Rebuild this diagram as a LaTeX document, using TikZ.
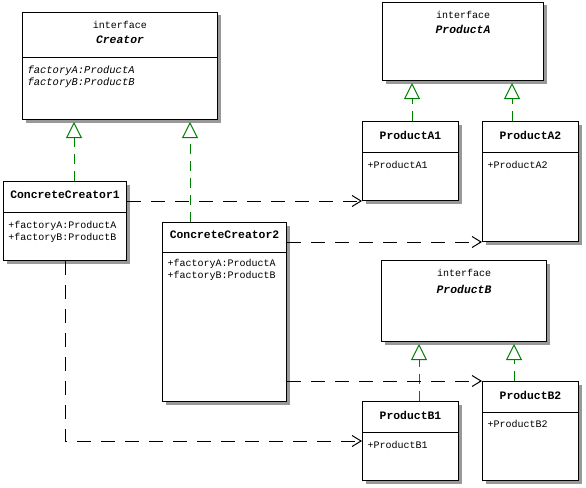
\documentclass[tikz,border=0pt]{standalone}
\usepackage{fontspec}
\setmainfont{Liberation Mono}
\usetikzlibrary{arrows.meta, shadows, calc, positioning}

\definecolor{umlgreen}{RGB}{0,128,0}

\tikzset{
  classbox/.style={draw, fill=white, inner sep=0pt, anchor=north west,
    drop shadow={shadow xshift=3pt, shadow yshift=-3pt, fill=black!40, opacity=1}},
  kw/.style={font=\fontsize{10}{12}\selectfont, inner sep=0pt},
  cname/.style={font=\fontsize{11.4}{13}\selectfont\bfseries, inner sep=0pt},
  iname/.style={font=\fontsize{11.4}{13}\selectfont\bfseries\itshape, inner sep=0pt},
  member/.style={font=\fontsize{10}{12}\selectfont, inner sep=0pt, anchor=west},
  imember/.style={font=\fontsize{10.5}{12}\selectfont\itshape, inner sep=0pt, anchor=west},
  realize/.style={draw=umlgreen, dash pattern=on 10pt off 7pt,
    -{Triangle[open, length=16pt, width=16pt, fill=white]}},
  depend/.style={dash pattern=on 14pt off 10pt, -{Straight Barb[length=9pt, width=11pt]}}
}

\begin{document}
\begin{tikzpicture}[x=1pt, y=-1pt, line width=1pt]
\useasboundingbox (0,0) rectangle (586,487);

% interface Creator
\node [classbox, minimum width=195pt, minimum height=107pt] (creator) at (22,12) {};
\draw (creator.west |- 0,58) -- (creator.east |- 0,58);
\node [kw] (creatorkw) at (creator.north |- 0,25) {interface};
\node [iname] (creatorname) at (creator.north |- 0,40) {Creator};
\node [imember] (creatorfa) at (27,71) {factoryA:ProductA};
\node [imember] (creatorfb) at (27,83) {factoryB:ProductB};

% ConcreteCreator1
\node [classbox, minimum width=123pt, minimum height=79pt] (cc1) at (3,181) {};
\draw (cc1.west |- 0,212) -- (cc1.east |- 0,212);
\node [cname] (cc1name) at (cc1.north |- 0,195) {ConcreteCreator1};
\node [member] (cc1fa) at (8,226) {+factoryA:ProductA};
\node [member] (cc1fb) at (8,238) {+factoryB:ProductB};

% ConcreteCreator2
\node [classbox, minimum width=124pt, minimum height=179pt] (cc2) at (162,222) {};
\draw (cc2.west |- 0,252) -- (cc2.east |- 0,252);
\node [cname] (cc2name) at (cc2.north |- 0,235) {ConcreteCreator2};
\node [member] (cc2fa) at (167,264) {+factoryA:ProductA};
\node [member] (cc2fb) at (167,276) {+factoryB:ProductB};

% interface ProductA
\node [classbox, minimum width=161pt, minimum height=78pt] (pa) at (382,2) {};
\node [kw] (pakw) at (pa.north |- 0,15) {interface};
\node [iname] (paname) at (pa.north |- 0,29) {ProductA};

% ProductA1, ProductA2
\node [classbox, minimum width=96pt, minimum height=79pt] (a1) at (362,121) {};
\draw (a1.west |- 0,152) -- (a1.east |- 0,152);
\node [cname] (a1name) at (a1.north |- 0,135) {ProductA1};
\node [member] (a1m) at (367,165) {+ProductA1};

\node [classbox, minimum width=96pt, minimum height=120pt] (a2) at (482,121) {};
\draw (a2.west |- 0,152) -- (a2.east |- 0,152);
\node [cname] (a2name) at (a2.north |- 0,135) {ProductA2};
\node [member] (a2m) at (487,165) {+ProductA2};

% interface ProductB
\node [classbox, minimum width=165pt, minimum height=81pt] (pb) at (381,260) {};
\node [kw] (pbkw) at (pb.north |- 0,273) {interface};
\node [iname] (pbname) at (pb.north |- 0,289) {ProductB};

% ProductB1, ProductB2
\node [classbox, minimum width=96pt, minimum height=79pt] (b1) at (362,401) {};
\draw (b1.west |- 0,432) -- (b1.east |- 0,432);
\node [cname] (b1name) at (b1.north |- 0,415) {ProductB1};
\node [member] (b1m) at (367,445) {+ProductB1};

\node [classbox, minimum width=96pt, minimum height=99pt] (b2) at (482,381) {};
\draw (b2.west |- 0,412) -- (b2.east |- 0,412);
\node [cname] (b2name) at (b2.north |- 0,395) {ProductB2};
\node [member] (b2m) at (487,424) {+ProductB2};

% realization tips
\coordinate (tc1) at ($(creator.south west)+(52,2)$);
\coordinate (tc2) at ($(creator.south west)+(168,2)$);
\coordinate (ta1) at ($(pa.south west)+(30,2)$);
\coordinate (ta2) at ($(pa.south west)+(130,2)$);
\coordinate (tb1) at ($(pb.south west)+(38,2)$);
\coordinate (tb2) at ($(pb.south west)+(133,2)$);

\draw [realize] (cc1.north -| tc1) -- (tc1);
\draw [realize] (cc2.north -| tc2) -- (tc2);
\draw [realize] (a1.north -| ta1) -- (ta1);
\draw [realize] (a2.north -| ta2) -- (ta2);
\draw [realize] (b1.north -| tb1) -- (tb1);
\draw [realize] (b2.north -| tb2) -- (tb2);

% dependencies
\draw [depend] (cc1.east |- a1.south west) -- (a1.south west);
\draw [depend] (cc2.east |- a2.south west) -- (a2.south west);
\draw [depend] (cc2.east |- b2.north west) -- (b2.north west);
\draw [depend] (cc1.south) |- (b1.west);

\end{tikzpicture}
\end{document}
